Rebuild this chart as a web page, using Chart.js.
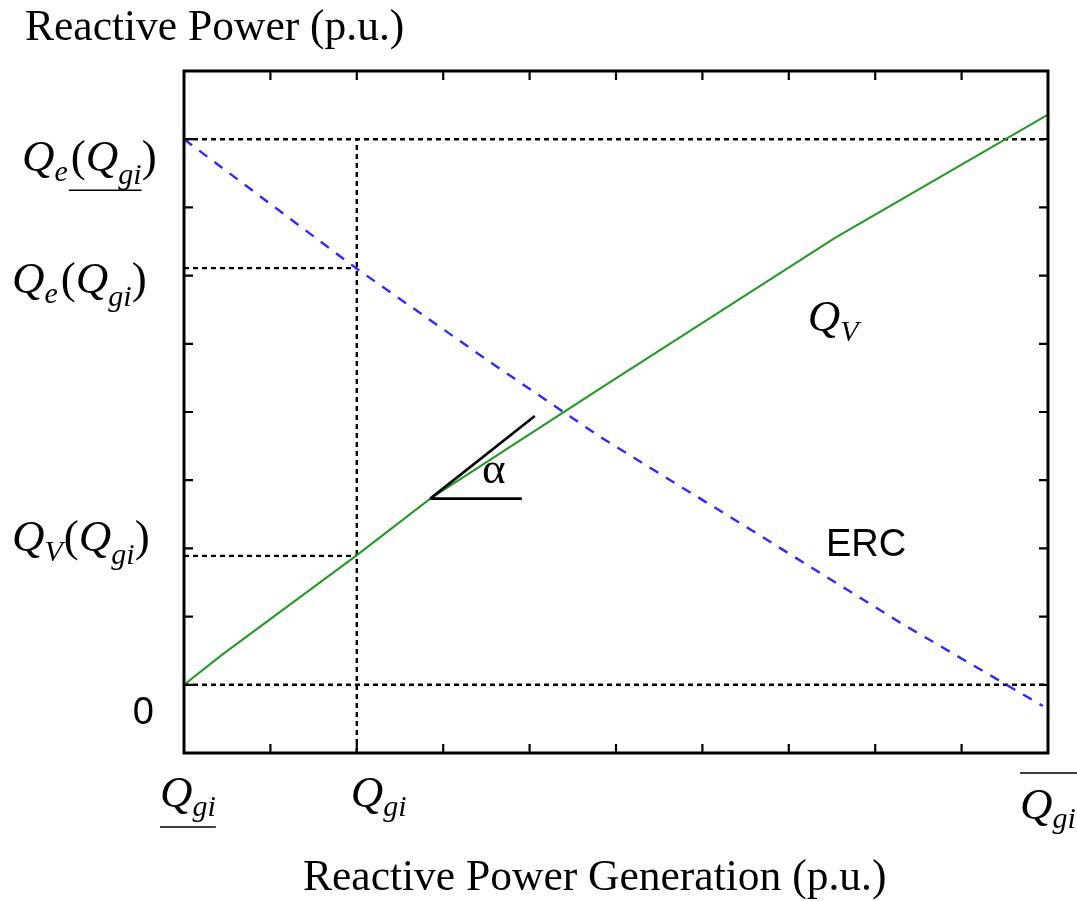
<!DOCTYPE html>
<html>
<head>
<meta charset="utf-8">
<title>Reactive Power vs Reactive Power Generation</title>
<script src="https://cdn.jsdelivr.net/npm/chart.js@4.4.1/dist/chart.umd.min.js"></script>
<style>
  html, body { margin: 0; padding: 0; background: #ffffff; }
  canvas { display: block; }
</style>
</head>
<body>
<canvas id="erc" width="1077" height="901"></canvas>
<script>
// ---- data (p.u., arbitrary scale) ----
const xTickValues = [0, 1, 2, 3, 4, 5, 6, 7, 8, 9, 10];
const yTickValues = [-1, 0, 1, 2, 3, 4, 5, 6, 7, 8, 9];

// Q_V curve
const qvGen = [0, 0.45, 1.99, 2.85, 4.81, 7.53, 10];
const qvVal = [0, 0.45, 1.89, 2.73, 4.34, 6.55, 8.36];

// ERC curve
const ercGen = [0, 1.99, 3.5, 4.81, 6.5, 8.29, 9.5, 9.94];
const ercVal = [8.0, 6.11, 4.77, 3.64, 2.32, 0.91, 0.015, -0.31];

// reference levels
const qgiMin = 0;
const qgiMax = 10;
const qgiOp = 2;        // operating Q_gi
const qeAtMin = 8;      // Q_e(Q_gi underline)
const qeAtOp = 6.11;    // Q_e(Q_gi)
const qvAtOp = 1.89;    // Q_V(Q_gi)

// slope marker (alpha)
const alphaGen = [2.85, 4.06];
const alphaVal = [2.73, 3.94];
const alphaBaseGen = [2.85, 3.91];

const pts = (xs, ys) => xs.map((x, i) => ({ x: x, y: ys[i] }));

const SERIF = '"Liberation Serif", "DejaVu Serif", serif';
const SANS = '"Liberation Sans", Arial, sans-serif';
const IT = 'italic 45px ' + SERIF;
const SUB = 'italic 30px ' + SERIF;
const UP = '45px ' + SERIF;
const TITLE = '43.5px ' + SERIF;

const dotted = (data) => ({
  data: data,
  borderColor: '#000000',
  borderWidth: 2.4,
  borderDash: [5, 4],
  showLine: true,
  pointRadius: 0,
  fill: false
});

// draws a run of text pieces side by side, returns their x spans
function mathText(ctx, x, y, runs) {
  let cx = x;
  const spans = [];
  runs.forEach(r => {
    ctx.font = r.f;
    const w = ctx.measureText(r.t).width;
    ctx.fillText(r.t, cx, y + (r.dy || 0));
    spans.push([cx, cx + w]);
    cx += w + (r.gap || 0);
  });
  return spans;
}

function hline(ctx, x0, x1, y) {
  ctx.beginPath();
  ctx.moveTo(x0, y);
  ctx.lineTo(x1, y);
  ctx.stroke();
}

const frameAndLabels = {
  id: 'frameAndLabels',
  afterDatasetsDraw(chart) {
    const { ctx, chartArea: a, scales: { x, y } } = chart;
    ctx.save();
    ctx.strokeStyle = '#000000';
    ctx.lineWidth = 3;
    ctx.strokeRect(a.left, a.top, a.right - a.left, a.bottom - a.top);

    // inward ticks on all four sides
    ctx.lineWidth = 2.2;
    const len = 9;
    xTickValues.slice(1, -1).forEach(v => {
      const px = x.getPixelForValue(v);
      ctx.beginPath();
      ctx.moveTo(px, a.bottom); ctx.lineTo(px, a.bottom - len);
      ctx.moveTo(px, a.top); ctx.lineTo(px, a.top + len);
      ctx.stroke();
    });
    yTickValues.slice(1, -1).forEach(v => {
      const py = y.getPixelForValue(v);
      ctx.beginPath();
      ctx.moveTo(a.left, py); ctx.lineTo(a.left + len, py);
      ctx.moveTo(a.right, py); ctx.lineTo(a.right - len, py);
      ctx.stroke();
    });
    ctx.restore();
  },
  afterDraw(chart) {
    const { ctx, scales: { x, y } } = chart;
    ctx.save();
    ctx.fillStyle = '#000000';
    ctx.strokeStyle = '#000000';
    ctx.textBaseline = 'alphabetic';
    ctx.textAlign = 'left';

    // axis titles
    ctx.font = TITLE;
    ctx.fillText('Reactive Power (p.u.)', 25, 40);
    ctx.fillText('Reactive Power Generation (p.u.)', 303, 890);

    // y-axis labels
    let s = mathText(ctx, 22, y.getPixelForValue(qeAtMin) + 32, [
      { t: 'Q', f: IT }, { t: 'e', f: SUB, dy: 10, gap: 3 }, { t: '(', f: UP },
      { t: 'Q', f: IT }, { t: 'gi', f: SUB, dy: 13 }, { t: ')', f: UP }
    ]);
    ctx.lineWidth = 1.6;
    hline(ctx, s[2][0] - 2, s[4][1], y.getPixelForValue(qeAtMin) + 51);

    mathText(ctx, 12, y.getPixelForValue(qeAtOp) + 25, [
      { t: 'Q', f: IT }, { t: 'e', f: SUB, dy: 10, gap: 3 }, { t: '(', f: UP },
      { t: 'Q', f: IT }, { t: 'gi', f: SUB, dy: 13 }, { t: ')', f: UP }
    ]);
    mathText(ctx, 12, y.getPixelForValue(qvAtOp) - 5, [
      { t: 'Q', f: IT }, { t: 'V', f: SUB, dy: 10, gap: 1 }, { t: '(', f: UP },
      { t: 'Q', f: IT }, { t: 'gi', f: SUB, dy: 13 }, { t: ')', f: UP }
    ]);
    ctx.font = '38px ' + SANS;
    ctx.textAlign = 'right';
    ctx.fillText('0', 154, y.getPixelForValue(0) + 39);
    ctx.textAlign = 'left';

    // x-axis labels
    const base = y.getPixelForValue(-1) + 54;
    s = mathText(ctx, x.getPixelForValue(qgiMin) - 24, base, [
      { t: 'Q', f: IT }, { t: 'gi', f: SUB, dy: 9 }
    ]);
    hline(ctx, s[0][0], s[1][1], base + 20);
    mathText(ctx, x.getPixelForValue(qgiOp) - 6, base, [
      { t: 'Q', f: IT }, { t: 'gi', f: SUB, dy: 9 }
    ]);
    s = mathText(ctx, x.getPixelForValue(qgiMax) - 28, base + 12, [
      { t: 'Q', f: IT }, { t: 'gi', f: SUB, dy: 9 }
    ]);
    hline(ctx, s[0][0], s[1][1] + 3, base - 34);

    // curve labels
    mathText(ctx, x.getPixelForValue(7.22), y.getPixelForValue(5.19), [
      { t: 'Q', f: IT }, { t: 'V', f: SUB, dy: 10 }
    ]);
    ctx.font = '38px ' + SANS;
    ctx.fillText('ERC', x.getPixelForValue(7.43), y.getPixelForValue(1.89));
    ctx.font = UP;
    ctx.fillText('\u03b1', x.getPixelForValue(3.45), y.getPixelForValue(2.96));
    ctx.restore();
  }
};

new Chart(document.getElementById('erc'), {
  type: 'scatter',
  data: {
    datasets: [
      {
        label: 'alpha',
        data: pts(alphaGen, alphaVal),
        borderColor: '#000000',
        borderWidth: 2.6,
        showLine: true,
        pointRadius: 0
      },
      {
        label: 'alpha base',
        data: pts(alphaBaseGen, [alphaVal[0], alphaVal[0]]),
        borderColor: '#000000',
        borderWidth: 2.6,
        showLine: true,
        pointRadius: 0
      },
      {
        label: 'Q_V',
        data: pts(qvGen, qvVal),
        borderColor: '#229922',
        borderWidth: 2,
        showLine: true,
        pointRadius: 0
      },
      {
        label: 'ERC',
        data: pts(ercGen, ercVal),
        borderColor: '#2b2bff',
        borderWidth: 2.4,
        borderDash: [10, 9],
        showLine: true,
        pointRadius: 0
      },
      dotted([{ x: qgiMin, y: qeAtMin }, { x: qgiMax, y: qeAtMin }]),
      dotted([{ x: qgiMin, y: 0 }, { x: qgiMax, y: 0 }]),
      dotted([{ x: qgiOp, y: yTickValues[0] }, { x: qgiOp, y: qeAtMin }]),
      dotted([{ x: qgiMin, y: qeAtOp }, { x: qgiOp, y: qeAtOp }]),
      dotted([{ x: qgiMin, y: qvAtOp }, { x: qgiOp, y: qvAtOp }])
    ]
  },
  options: {
    responsive: false,
    animation: false,
    layout: { padding: { left: 184, right: 29, top: 71, bottom: 148 } },
    scales: {
      x: { type: 'linear', min: xTickValues[0], max: xTickValues[xTickValues.length - 1], display: false },
      y: { type: 'linear', min: yTickValues[0], max: yTickValues[yTickValues.length - 1], display: false }
    },
    plugins: {
      legend: { display: false },
      tooltip: { enabled: false }
    }
  },
  plugins: [frameAndLabels]
});
</script>
</body>
</html>
